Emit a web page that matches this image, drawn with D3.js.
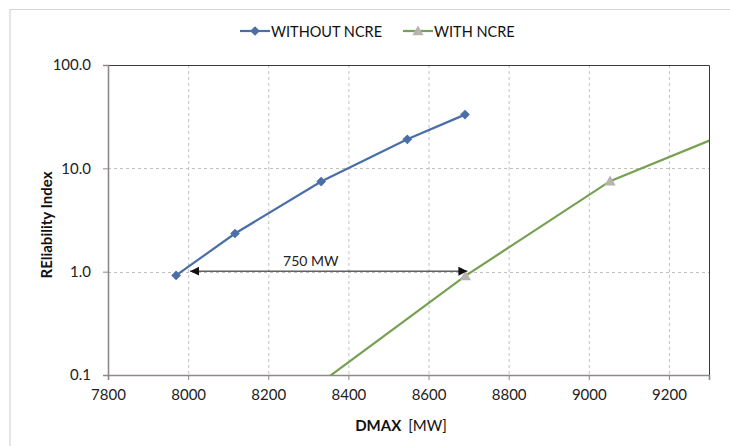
<!DOCTYPE html>
<html>
<head>
<meta charset="utf-8">
<script src="https://cdn.jsdelivr.net/npm/d3@7"></script>
<style>
  body { margin: 0; background: #fff; }
  svg { display: block; font-family: Lato, 'Liberation Sans', sans-serif; }
</style>
</head>
<body>
<div id="chart"></div>
<script>
// series
const withoutX = [7970, 8117, 8332, 8547, 8691]
const withoutY = [0.92, 2.34, 7.45, 19.1, 33.1]
const withX = [8255, 8692, 9053, 9410]
const withY = [0.051, 0.91, 7.52, 27.6]

const xTicks = [7800, 8000, 8200, 8400, 8600, 8800, 9000, 9200]
const yTicks = [0.1, 1, 10, 100]
const seriesNames = ['WITHOUT NCRE', 'WITH NCRE']

// the 750 MW arrow
const gapFrom = 8005
const gapTo = 8697
const gapLevel = 1
const gapLabel = '750 MW'

;(function drawChart() {
  const W = 730, H = 446
  const left = 108, right = 709, top = 65, bottom = 375
  const BLUE = '#4a6ea8', GREEN = '#76a052', TRI = '#b8b3ad'

  const svg = d3.select('#chart').append('svg')
    .attr('width', W).attr('height', H)

  // outer frame of the figure
  svg.append('path')
    .attr('d', 'M10,446 V9.5 H730')
    .attr('fill', 'none').attr('stroke', '#d8d2d2').attr('stroke-width', 1.2)

  const x = d3.scaleLinear().domain([7800, 9300]).range([left, right])
  const y = d3.scaleLog().domain([0.1, 100]).range([bottom, top])

  svg.append('defs').append('clipPath').attr('id', 'plot')
    .append('rect').attr('x', left).attr('y', top)
    .attr('width', right - left).attr('height', bottom - top)

  // grid
  const grid = svg.append('g').attr('stroke', '#c4c0c0').attr('stroke-dasharray', '3,3')
  grid.selectAll('.vx').data(xTicks.slice(1)).enter().append('line')
    .attr('x1', d => x(d) + 0.5).attr('x2', d => x(d) + 0.5)
    .attr('y1', top).attr('y2', bottom)
  grid.selectAll('.hy').data(yTicks.slice(1, -1)).enter().append('line')
    .attr('y1', d => Math.round(y(d)) + 0.5).attr('y2', d => Math.round(y(d)) + 0.5)
    .attr('x1', left).attr('x2', right)

  // top/right border
  svg.append('path')
    .attr('d', `M${left},${top + 0.5} H${right + 0.5} V${bottom}`)
    .attr('fill', 'none').attr('stroke', '#3a3a3a').attr('stroke-width', 1)

  // axes
  const xAxis = svg.append('g').attr('transform', `translate(0,${bottom})`)
    .call(d3.axisBottom(x).tickValues(xTicks).tickFormat(d3.format('d')).tickSizeOuter(0).tickSize(5).tickPadding(9))
  const yAxis = svg.append('g').attr('transform', `translate(${left},0)`)
    .call(d3.axisLeft(y).tickValues(yTicks).tickFormat(d3.format('.1f')).tickSizeOuter(0).tickSize(5).tickPadding(12))
  ;[xAxis, yAxis].forEach(a => {
    a.select('.domain').attr('stroke', '#8e8888').attr('stroke-width', 1.6)
    a.selectAll('.tick line').attr('stroke', '#8e8888')
    a.selectAll('.tick text').attr('font-size', 15).attr('fill', '#222')
      .attr('font-family', 'Lato, sans-serif')
  })

  // lines
  const line = d3.line().x(d => x(d[0])).y(d => y(d[1]))
  const without = withoutX.map((v, i) => [v, withoutY[i]])
  const withN = withX.map((v, i) => [v, withY[i]])

  const plot = svg.append('g').attr('clip-path', 'url(#plot)')
  plot.append('path').datum(without).attr('d', line)
    .attr('fill', 'none').attr('stroke', BLUE).attr('stroke-width', 2.2)
  plot.append('path').datum(withN).attr('d', line)
    .attr('fill', 'none').attr('stroke', GREEN).attr('stroke-width', 2.2)

  const diamond = d3.symbol().type(d3.symbolDiamond2).size(60)
  const triangle = d3.symbol().type(d3.symbolTriangle).size(55)

  svg.append('g').attr('clip-path', 'url(#plot)').selectAll('path').data(without).enter().append('path')
    .attr('d', diamond)
    .attr('transform', d => `translate(${x(d[0])},${y(d[1])})`)
    .attr('fill', BLUE)
  svg.append('g').selectAll('path')
    .data(withN.filter(d => d[0] <= 9300 && d[1] >= 0.1)).enter().append('path')
    .attr('d', triangle)
    .attr('transform', d => `translate(${x(d[0])},${y(d[1]) + 1})`)
    .attr('fill', TRI)

  // 750 MW arrow
  svg.append('defs').append('marker').attr('id', 'head')
    .attr('viewBox', '0 0 10 10').attr('refX', 10).attr('refY', 5)
    .attr('markerWidth', 9).attr('markerHeight', 9).attr('markerUnits', 'userSpaceOnUse')
    .attr('orient', 'auto-start-reverse')
    .append('path').attr('d', 'M0,0 L10,5 L0,10 Z').attr('fill', '#111')
  svg.append('line')
    .attr('x1', x(gapFrom)).attr('x2', x(gapTo))
    .attr('y1', y(gapLevel) - 0.5).attr('y2', y(gapLevel) - 0.5)
    .attr('stroke', '#111').attr('stroke-width', 1)
    .attr('marker-start', 'url(#head)').attr('marker-end', 'url(#head)')
  svg.append('text')
    .attr('x', x((gapFrom + gapTo) / 2) - 18).attr('y', y(gapLevel) - 6)
    .attr('text-anchor', 'middle').attr('font-size', 14).attr('fill', '#222')
    .text(gapLabel)

  // axis titles
  const xt = svg.append('text').attr('x', 401).attr('y', 431)
    .attr('text-anchor', 'middle').attr('font-size', 15).attr('fill', '#111')
  xt.append('tspan').attr('font-weight', 'bold').text('DMAX')
  xt.append('tspan').attr('dx', 7).text('[MW]')

  svg.append('text')
    .attr('transform', 'translate(52,225) rotate(-90)')
    .attr('text-anchor', 'middle').attr('font-size', 15).attr('font-weight', 'bold').attr('fill', '#111')
    .text('REliability Index')

  // legend
  const legend = svg.append('g').attr('transform', 'translate(0,31)')
  const entries = [
    { name: seriesNames[0], x0: 240, color: BLUE, sym: diamond, fill: BLUE },
    { name: seriesNames[1], x0: 403, color: GREEN, sym: triangle, fill: TRI }
  ]
  entries.forEach(e => {
    legend.append('line').attr('x1', e.x0).attr('x2', e.x0 + 30)
      .attr('stroke', e.color).attr('stroke-width', 2.2)
    legend.append('path').attr('d', e.sym).attr('fill', e.fill)
      .attr('transform', `translate(${e.x0 + 15},${e.sym === triangle ? 1 : 0})`)
    legend.append('text').attr('x', e.x0 + 31).attr('y', 5.5)
      .attr('font-size', 14.5).attr('fill', '#111').text(e.name)
  })
})()
</script>
</body>
</html>
